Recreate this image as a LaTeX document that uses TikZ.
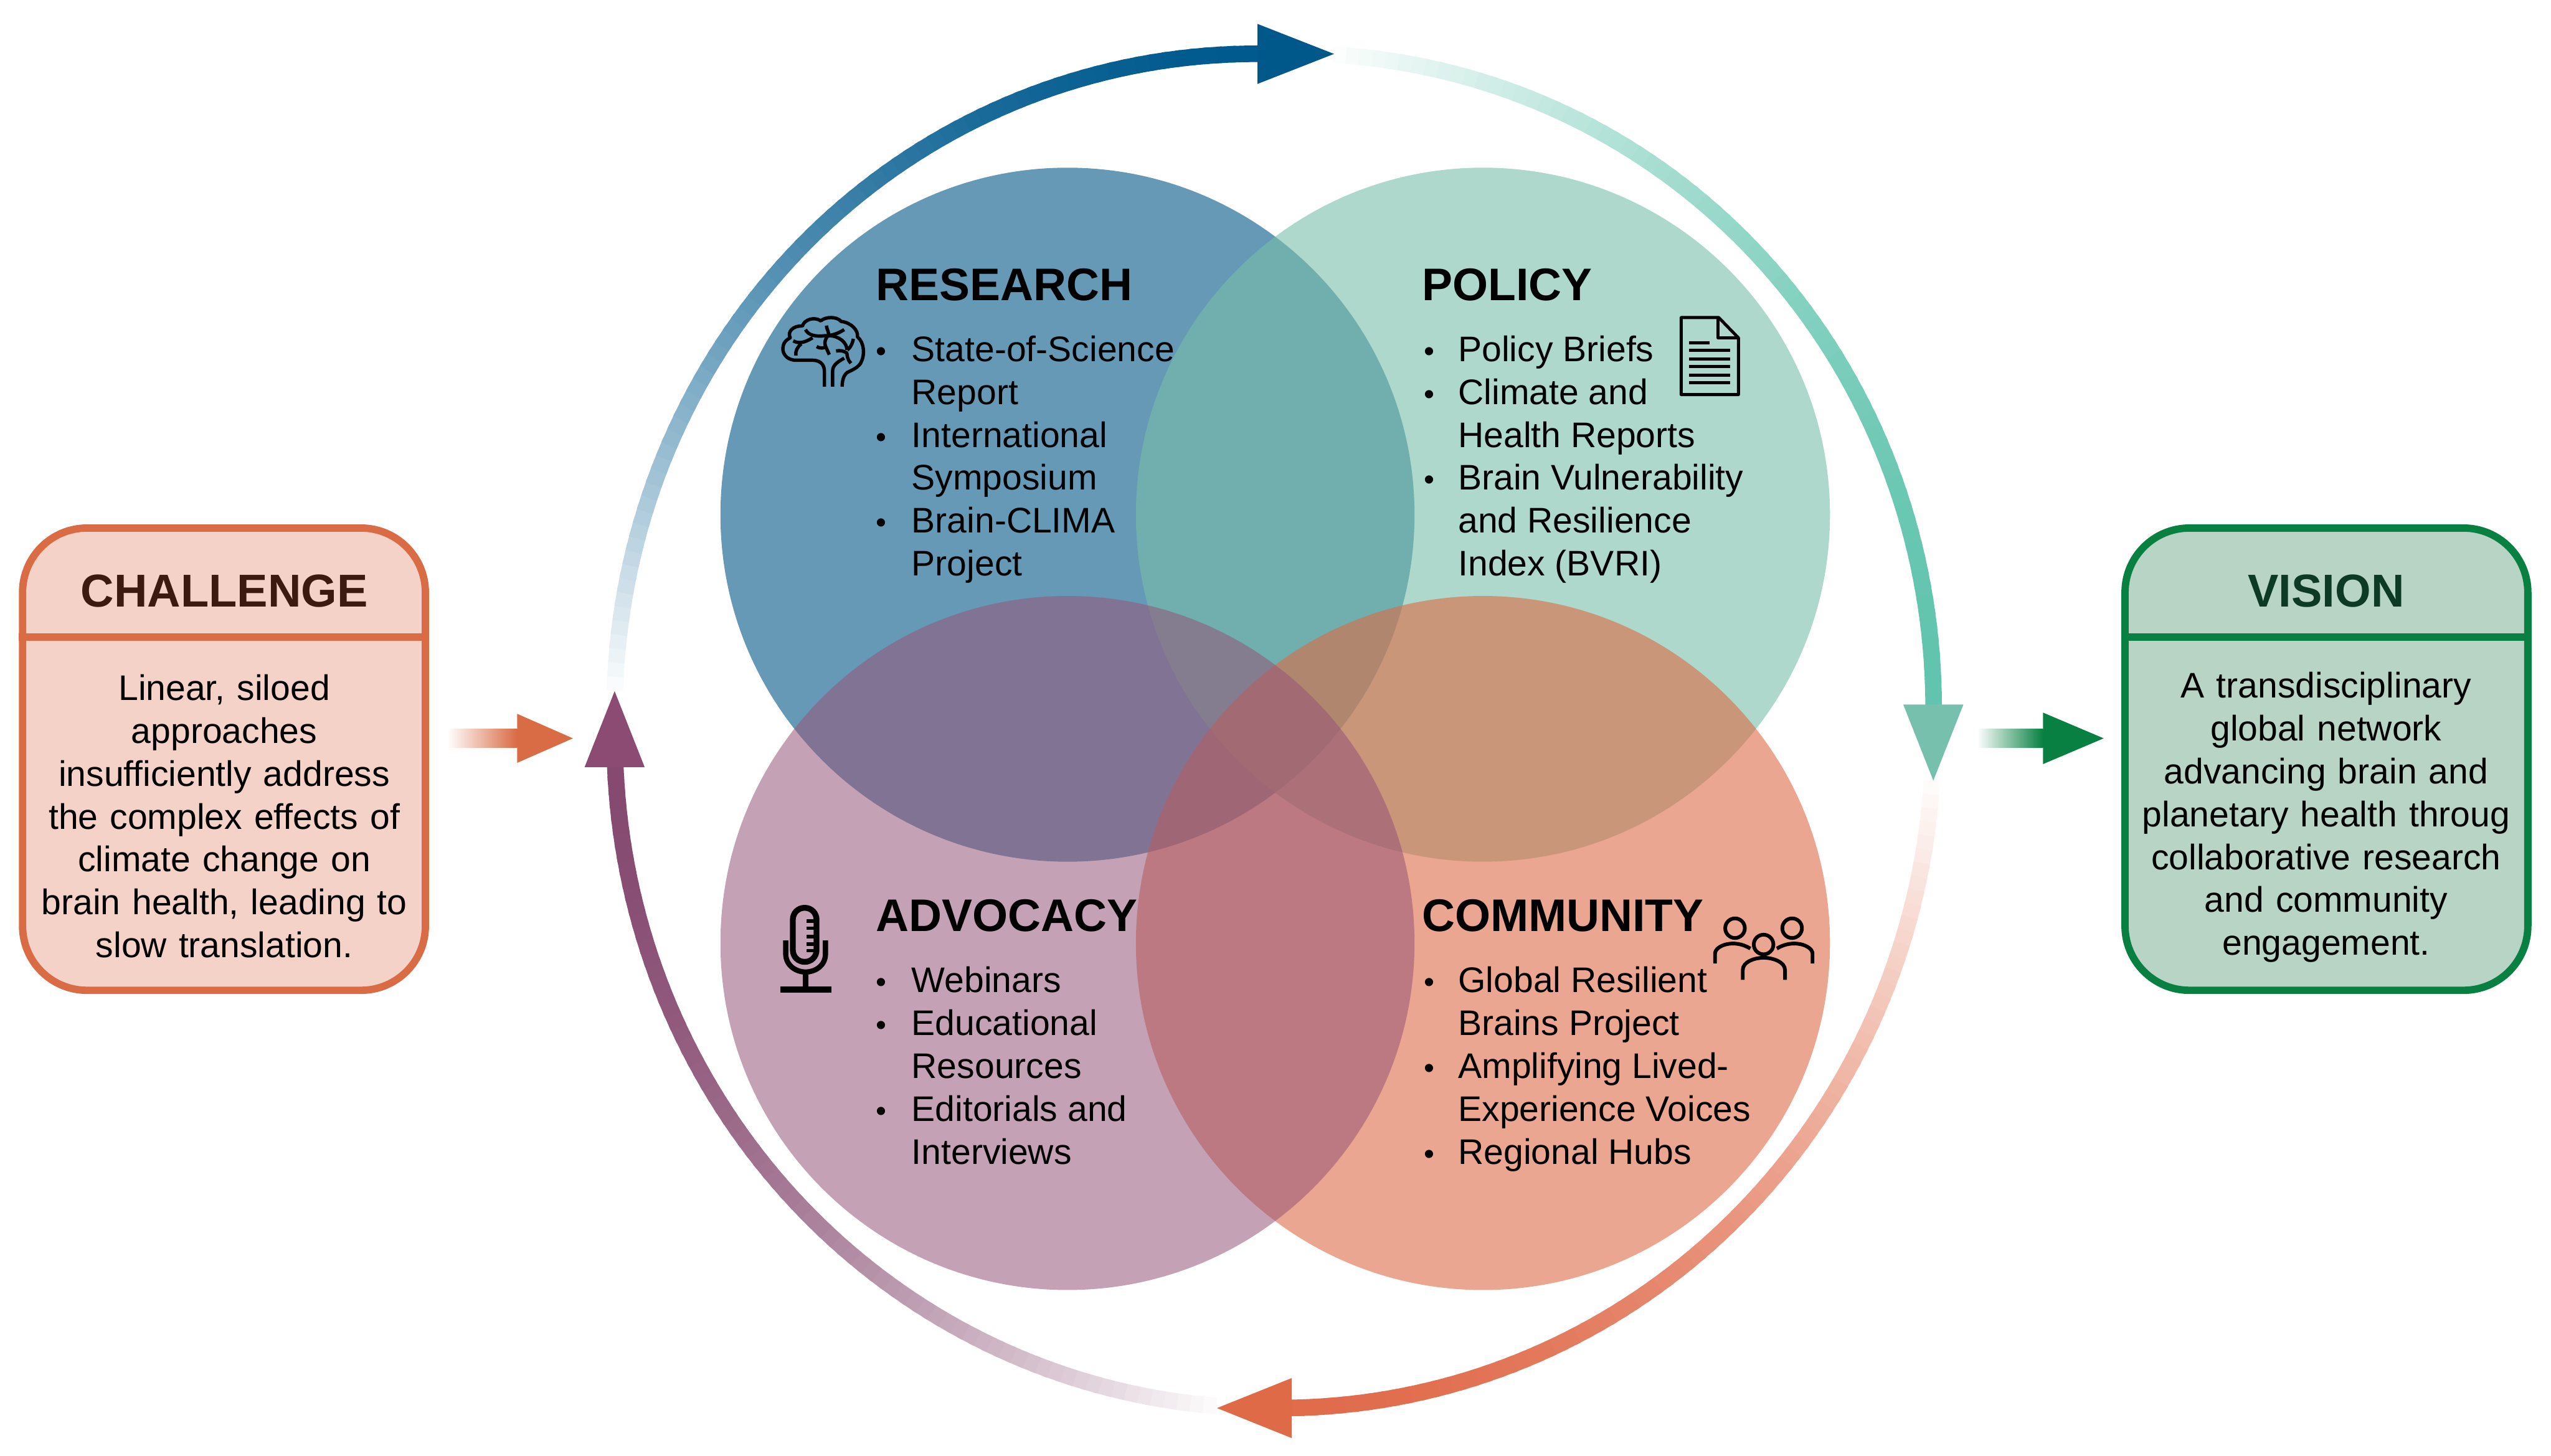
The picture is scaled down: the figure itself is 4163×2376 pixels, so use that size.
\documentclass[tikz,border=0pt]{standalone}
\usepackage{fontspec}
\setmainfont{Liberation Sans}
\definecolor{cres}{RGB}{0,85,133}
\definecolor{cpol}{RGB}{120,190,168}
\definecolor{cadv}{RGB}{150,84,120}
\definecolor{ccom}{RGB}{220,107,70}
\definecolor{rtop}{RGB}{0,90,142}
\definecolor{htop}{RGB}{0,87,138}
\definecolor{rright}{RGB}{98,196,174}
\definecolor{hright}{RGB}{120,192,174}
\definecolor{rbot}{RGB}{224,108,76}
\definecolor{hbot}{RGB}{222,106,72}
\definecolor{rleft}{RGB}{134,74,112}
\definecolor{hleft}{RGB}{139,75,114}
\definecolor{chbd}{RGB}{217,107,69}
\definecolor{chfill}{RGB}{245,210,200}
\definecolor{chtxt}{RGB}{61,26,16}
\definecolor{vibd}{RGB}{8,128,66}
\definecolor{vifill}{RGB}{184,212,196}
\definecolor{vitxt}{RGB}{12,58,36}
\newcommand{\bl}{\makebox[0pt][r]{{\fontsize{14}{14}\selectfont\textbullet}\hspace{11.6pt}}}
\newcommand{\br}{\makebox[0pt][r]{{\fontsize{14}{14}\selectfont\textbullet}\hspace{10.9pt}}}
\newcommand{\fs}{\rule{0pt}{12pt}}
% colour, start angle, end angle, bulge
\newcommand{\ringarc}[4]{%
  \foreach \i in {0,...,71}{%
    \pgfmathsetmacro{\aA}{#2+(#3-#2)*\i/72}%
    \pgfmathsetmacro{\aB}{#2+(#3-#2)*(\i+1.4)/72}%
    \pgfmathsetmacro{\pc}{100*(1-(1-(\i+1)/72)^1.8)}%
    \pgfmathsetmacro{\dA}{#4*abs(sin(2*\aA))}%
    \pgfmathsetmacro{\dB}{#4*abs(sin(2*\aB))}%
    \pgfmathsetmacro{\xA}{2079+(1076+\dA)*cos(\aA)}%
    \pgfmathsetmacro{\yA}{1193-(1105+\dA)*sin(\aA)}%
    \pgfmathsetmacro{\xB}{2079+(1076+\dB)*cos(\aB)}%
    \pgfmathsetmacro{\yB}{1193-(1105+\dB)*sin(\aB)}%
    \draw[ringseg,draw=#1!\pc!white] (\xA,\yA) -- (\xB,\yB);
  }}
\tikzset{
  blob/.style={fill opacity=#1,draw=none},
  ringseg/.style={line width=0.27cm,line cap=butt},
  heading/.style={anchor=base west,inner sep=0pt,font=\fontsize{21.2}{24}\selectfont\bfseries,text=black},
  listing/.style={anchor=north west,inner sep=0pt,align=left,font=\fontsize{16.5}{19.9}\selectfont,text=black},
  sidebox/.style={rounded corners=1.05cm,line width=0.12cm,minimum width=6.57cm,minimum height=7.54cm,inner sep=0pt},
  sidehead/.style={inner sep=0pt,font=\fontsize{21.4}{24}\selectfont\bfseries},
  sidebody/.style={anchor=north,inner sep=0pt,align=center,text width=6.4cm,font=\fontsize{16.5}{19.9}\selectfont,text=black},
  icon/.style={draw=black,line width=0.055cm,line join=round},
}
\begin{document}
\begin{tikzpicture}[x=0.01cm,y=-0.01cm]
\useasboundingbox (0,0) rectangle (4163,2376);
% circles
\fill[cres,blob=.6] (1742,840) circle[radius=5.66cm];
\fill[cpol,blob=.6] (2420,840) circle[radius=5.66cm];
\fill[ccom,blob=.6] (2420,1539) circle[radius=5.66cm];
\fill[cadv,blob=.55] (1742,1539) circle[radius=5.66cm];
% ring
\ringarc{rtop}{176.6}{91.4}{14}
\ringarc{rright}{84.9}{2.2}{18}
\ringarc{rbot}{-4.2}{-88.5}{5}
\ringarc{rleft}{-95}{-176.9}{5}
\fill[htop] (2052,39) -- (2177,88) -- (2052,137) -- cycle;
\fill[hright] (3106,1150) -- (3155,1274) -- (3204,1150) -- cycle;
\fill[hbot] (2108,2249) -- (1986,2298) -- (2108,2347) -- cycle;
\fill[hleft] (954,1252) -- (1003,1128) -- (1052,1252) -- cycle;
% side boxes
\node[sidebox,draw=chbd,fill=chfill] (challenge) at (365.5,1239) {};
\draw[draw=chbd,line width=0.12cm] (challenge.west |- 0,1040) -- (challenge.east |- 0,1040);
\node[sidehead,text=chtxt] (chtitle) at (366,965) {CHALLENGE};
\node[sidebody] (chbody) at (366,1100) {\fs Linear, siloed\\approaches\\insufficiently address\\the complex effects of\\climate change on\\brain health, leading to\\slow translation.};
\node[sidebox,draw=vibd,fill=vifill] (vision) at (3796.5,1239) {};
\draw[draw=vibd,line width=0.12cm] (vision.west |- 0,1040) -- (vision.east |- 0,1040);
\node[sidehead,text=vitxt] (vititle) at (3796,965) {VISION};
\node[sidebody] (vibody) at (3796,1096) {\fs A transdisciplinary\\global network\\advancing brain and\\planetary health throug\\collaborative research\\and community\\engagement.};
% small arrows
\shade[left color=white,right color=chbd] (730,1190) rectangle (844,1220);
\fill[chbd] (844,1165) -- (935,1205) -- (844,1245) -- cycle;
\shade[left color=white,right color=vibd] (3226,1190) rectangle (3334,1220);
\fill[vibd] (3334,1163) -- (3433,1205) -- (3334,1247) -- cycle;
% circle texts
\node[heading] (restitle) at (1429,490) {RESEARCH};
\node[listing] (reslist) at (1487,547) {\fs\bl State-of-Science\\Report\\\bl International\\Symposium\\\bl Brain-CLIMA\\Project};
\node[heading] (poltitle) at (2320,490) {POLICY};
\node[listing] (pollist) at (2379,547) {\fs\br Policy Briefs\\\br Climate and\\Health Reports\\\br Brain Vulnerability\\and Resilience\\Index (BVRI)};
\node[heading] (advtitle) at (1429,1520) {ADVOCACY};
\node[listing] (advlist) at (1487,1577) {\fs\bl Webinars\\\bl Educational\\Resources\\\bl Editorials and\\Interviews};
\node[heading] (comtitle) at (2320,1520) {COMMUNITY};
\node[listing] (comlist) at (2379,1577) {\fs\br Global Resilient\\Brains Project\\\br Amplifying Lived-\\Experience Voices\\\br Regional Hubs};
% brain icon
\begin{scope}[shift={(950,300)},x=0.00333cm,y=-0.00333cm]
\draw[icon] (1188,995) -- (1188,920) .. controls (1188,880) and (1160,865) .. (1130,865) -- (1040,865)
  .. controls (1000,860) and (980,830) .. (985,800) .. controls (990,770) and (1005,765) .. (1020,755)
  .. controls (1005,725) and (1035,695) .. (1080,697) .. controls (1090,665) and (1140,650) .. (1170,672)
  .. controls (1195,650) and (1250,650) .. (1270,675) .. controls (1320,680) and (1355,720) .. (1350,750)
  .. controls (1385,780) and (1385,840) .. (1370,870) .. controls (1360,900) and (1320,915) .. (1300,925)
  .. controls (1280,940) and (1275,970) .. (1275,995);
\draw[icon] (1228,995) -- (1228,920) .. controls (1228,885) and (1260,870) .. (1285,855);
\draw[icon] (1095,715) .. controls (1110,745) and (1150,750) .. (1190,745) .. controls (1220,745) and (1255,735) .. (1285,715);
\draw[icon] (1198,695) .. controls (1200,720) and (1215,730) .. (1205,745) .. controls (1185,770) and (1190,790) .. (1195,800) -- (1212,838);
\draw[icon] (1035,770) .. controls (1060,785) and (1090,780) .. (1130,755);
\draw[icon] (1075,785) .. controls (1055,800) and (1045,820) .. (1048,842);
\draw[icon] (1150,798) .. controls (1170,810) and (1185,805) .. (1195,800);
\draw[icon] (1210,745) .. controls (1260,745) and (1300,780) .. (1298,815);
\draw[icon] (1245,820) .. controls (1265,815) and (1285,820) .. (1298,830) .. controls (1300,845) and (1300,860) .. (1318,880);
\draw[icon] (1330,760) .. controls (1325,785) and (1315,805) .. (1300,815);
\end{scope}
% document icon
\begin{scope}[shift={(2650,450)},x=0.00333cm,y=-0.00333cm]
\draw[icon,line width=0.05cm] (281,205) -- (465,205) -- (562,305) -- (562,583) -- (281,583) -- cycle;
\draw[icon,line width=0.05cm] (462,205) -- (462,305) -- (562,305);
\draw[icon,line width=0.05cm] (320,330) -- (420,330);
\foreach \ly in {366,408,444,489,525}{\draw[icon,line width=0.05cm] (320,\ly) -- (520,\ly);}
\end{scope}
% microphone icon
\begin{scope}[shift={(1200,1420)},x=0.00333cm,y=-0.00333cm]
\draw[icon,line width=0.095cm,rounded corners=0.19cm] (282,185) rectangle (398,450);
\foreach \ly in {250,285,325,362,395}{\draw[icon,line width=0.06cm] (348,\ly) -- (385,\ly);}
\draw[icon,line width=0.085cm] (247,345) -- (247,410) .. controls (247,470) and (300,500) .. (345,500) .. controls (390,500) and (442,470) .. (442,410) -- (442,345);
\draw[icon,line width=0.085cm] (345,500) -- (345,585);
\draw[icon,line width=0.1cm] (222,585) -- (470,585);
\end{scope}
% people icon
\begin{scope}[shift={(2650,1400)},x=0.00333cm,y=-0.00333cm]
\foreach \hx/\hy in {545/345,825/345,685/425}{\draw[icon,line width=0.06cm] (\hx,\hy) circle[radius=0.16cm];}
\draw[icon,line width=0.06cm] (447,518) -- (447,470) .. controls (447,430) and (540,395) .. (620,445);
\draw[icon,line width=0.06cm] (925,518) -- (925,470) .. controls (925,430) and (830,395) .. (750,445);
\draw[icon,line width=0.06cm] (583,598) -- (583,550) .. controls (583,510) and (640,490) .. (685,490) .. controls (730,490) and (790,510) .. (790,550) -- (790,598);
\end{scope}
\end{tikzpicture}
\end{document}
